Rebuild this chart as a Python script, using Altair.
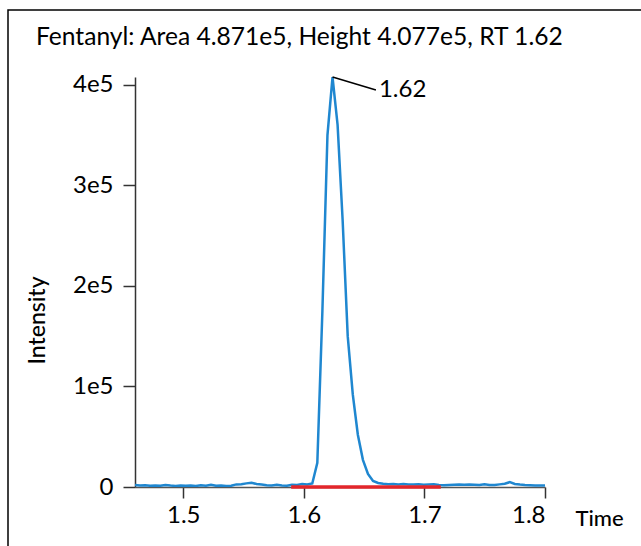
import altair as alt
import pandas as pd

# Chromatogram trace (time in min, intensity)
times = [1.4600, 1.4642, 1.4684, 1.4726, 1.4768, 1.4810, 1.4852, 1.4894, 1.4936, 1.4978,
         1.5020, 1.5062, 1.5104, 1.5146, 1.5188, 1.5230, 1.5272, 1.5314, 1.5356, 1.5398,
         1.5440, 1.5482, 1.5524, 1.5566, 1.5608, 1.5650, 1.5692, 1.5734, 1.5776, 1.5818,
         1.5860, 1.5902, 1.5944, 1.5986, 1.6028, 1.6070, 1.6112, 1.6154, 1.6196, 1.6238,
         1.6280, 1.6322, 1.6364, 1.6406, 1.6448, 1.6490, 1.6532, 1.6574, 1.6616, 1.6658,
         1.6700, 1.6742, 1.6784, 1.6826, 1.6868, 1.6910, 1.6952, 1.6994, 1.7036, 1.7078,
         1.7120, 1.7162, 1.7204, 1.7246, 1.7288, 1.7330, 1.7372, 1.7414, 1.7456, 1.7498,
         1.7540, 1.7582, 1.7624, 1.7666, 1.7708, 1.7750, 1.7792, 1.7834, 1.7876, 1.7918,
         1.7960, 1.8000]
intensity = [2000, 1500, 1800, 1200, 1600, 1300, 2000, 1400, 1100, 1600,
             1200, 1500, 1000, 1700, 1300, 2200, 1200, 1400, 1000, 1300,
             2600, 2800, 3600, 4300, 3000, 2400, 1800, 1500, 2200, 1600,
             1300, 2200, 2000, 3000, 2500, 3500, 24000, 175000, 350000, 407700,
             360000, 265000, 150000, 92000, 52000, 27000, 13000, 6000, 4000, 3200,
             2800, 3000, 2500, 2900, 2600, 2400, 2700, 2300, 2600, 2800,
             2000, 1800, 2000, 2200, 2400, 2300, 2500, 2200, 2000, 2800,
             2100, 1900, 2600, 3200, 4800, 3000, 2400, 2000, 1800, 1600,
             1500, 1400]

# Integration baseline
baseline_t = [1.5895, 1.7136]
baseline_i = [0, 0]

# Peak annotation
peak_rt = [1.6238]
peak_h = [407700]
label_t = [1.6598]
label_i = [394800]
peak_label = ["1.62"]

title_text = "Fentanyl: Area 4.871e5, Height 4.077e5, RT 1.62"

FONT = "Lato"
W, H = 410, 410

trace = pd.DataFrame({"t": times, "i": intensity})
base = pd.DataFrame({"t": baseline_t, "i": baseline_i})
ann = pd.DataFrame({"t": peak_rt, "i": peak_h, "t2": label_t, "i2": label_i, "lab": peak_label})

xs = alt.Scale(domain=[1.46, 1.8], nice=False, zero=False)
ys = alt.Scale(domain=[0, 407700], nice=False)

line = alt.Chart(trace).mark_line(color="#1f87d0", strokeWidth=2.5, clip=True).encode(
    x=alt.X("t:Q", scale=xs, axis=alt.Axis(
        title="Time", values=[1.5, 1.6, 1.7, 1.8], format=".1f", grid=False,
        labelFontSize=24, labelFont=FONT, labelColor="black", labelPadding=5,
        tickSize=11, tickColor="#333", domainColor="#555", domainWidth=1.5, tickWidth=1.5,
        titleFont=FONT, titleFontSize=22, titleFontWeight=500, titleColor="black",
        titleX=440, titleY=31, titleAlign="left", titleBaseline="middle")),
    y=alt.Y("i:Q", scale=ys, axis=alt.Axis(
        title="Intensity", values=[0, 100000, 200000, 300000, 400000],
        labelExpr="datum.value == 0 ? '0' : format(datum.value/100000, 'd') + 'e5'",
        grid=False, labelFontSize=24, labelFont=FONT, labelColor="black", labelPadding=10,
        tickSize=12, tickColor="#333", domainColor="#333", domainWidth=1.5, tickWidth=1.5,
        titleFont=FONT, titleFontSize=23, titleFontWeight=500, titleColor="black",
        titleX=-98, titleY=243, titleAngle=-90, titleBaseline="middle", titleAlign="center")),
)

red = alt.Chart(base).mark_line(color="#e3262b", strokeWidth=3.5).encode(
    x=alt.X("t:Q", scale=xs), y=alt.Y("i:Q", scale=ys))

leader = alt.Chart(ann).mark_rule(color="black", strokeWidth=1.5).encode(
    x=alt.X("t:Q", scale=xs), y=alt.Y("i:Q", scale=ys), x2="t2:Q", y2="i2:Q")

label = alt.Chart(ann).mark_text(align="left", baseline="middle", dx=3, fontSize=24,
                                 font=FONT, color="black").encode(
    x=alt.X("t2:Q", scale=xs), y=alt.Y("i2:Q", scale=ys), text="lab:N")

frame = alt.Chart(pd.DataFrame({"k": [0]})).mark_rect(
    fill=None, stroke="black", strokeWidth=1.5, clip=False).encode(
    x=alt.value(-127), x2=alt.value(700), y=alt.value(-67), y2=alt.value(700))

chart = alt.layer(frame, line, red, leader, label).properties(
    width=W, height=H,
    title=alt.TitleParams(title_text, anchor="start", frame="group", dx=-99, offset=-41,
                          fontSize=24.6, font=FONT, fontWeight="normal", color="black"),
    autosize=alt.AutoSizeParams(type="none"),
    padding={"left": 135, "top": 77, "right": 96, "bottom": 59},
).configure(background="white").configure_view(strokeWidth=0, stroke="transparent")

chart.save("out.html", embed_options={"renderer": "svg", "actions": False})
